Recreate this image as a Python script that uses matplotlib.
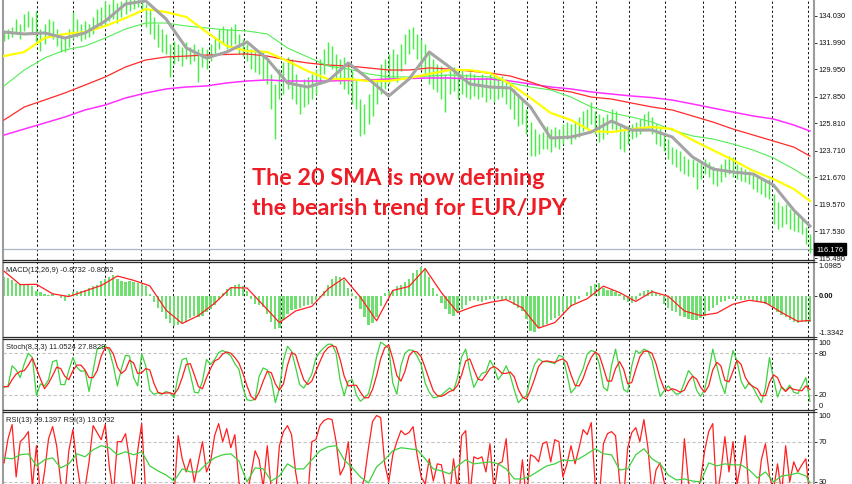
import matplotlib
matplotlib.use("Agg")
import matplotlib.pyplot as plt
from matplotlib.transforms import blended_transform_factory

W, H, DPI = 852, 485, 100
plt.rcParams['font.family'] = ['Liberation Sans', 'DejaVu Sans']

# ---------------- price bars (high / low) ----------------
high = [132.88,133.03,133.19,133.80,133.41, 134.18,134.41,133.95,134.41,133.03,
        133.41,133.80,133.64,133.03,132.65, 132.42,133.03,134.33,133.80,133.41,
        133.64,133.41,133.95,134.56,134.72, 135.18,134.95,135.33,135.02,135.18,
        135.71,135.56,135.71,135.64,135.48, 134.95,134.56,133.95,133.41,133.03,
        132.65,131.88,132.11,131.88,131.65, 132.04,131.65,131.88,131.50,131.65,
        131.50,131.88,132.42,133.03,133.26, 133.03,133.19,133.41,132.65,132.27,
        131.88,131.50,131.35,131.12,131.27, 130.73,129.59,128.82,129.97,130.50,
        130.89,130.73,129.59,128.82,129.20, 129.36,129.59,129.97,130.73,131.50,
        132.04,131.73,131.12,130.73,130.89, 130.35,129.81,129.20,127.67,127.29,
        128.05,128.82,129.20,130.35,130.73, 131.12,131.50,131.12,131.88,132.65,
        133.03,133.19,132.65,132.27,131.88, 131.12,130.73,130.35,130.20,129.59,
        129.97,130.12,129.81,129.97,129.59, 129.74,129.59,129.36,129.59,129.36,
        129.59,129.36,129.20,129.43,129.20, 128.82,128.44,128.05,127.67,126.90,
        125.91,125.37,124.99,125.14,125.60, 125.37,125.53,125.37,125.75,125.91,
        125.75,125.98,126.29,126.75,126.90, 127.44,126.75,126.52,126.29,126.52,
        126.90,126.75,125.75,125.53,125.60, 125.75,125.91,126.14,126.52,126.75,
        126.29,125.75,125.53,124.99,124.61, 123.99,123.84,123.69,123.30,123.07,
        123.07,122.84,122.92,123.07,122.84, 122.54,122.31,122.69,123.07,123.30,
        123.23,122.69,122.46,122.31,122.16, 121.92,121.69,121.54,121.39,121.54,
        120.39,119.78,119.47,119.63,119.24, 119.01,118.86,118.47,117.86,117.33]
low = [132.11,132.27,132.42,132.65,132.27, 132.88,133.19,132.65,132.04,131.35,
       131.88,132.42,132.27,131.73,131.27, 131.27,131.65,132.27,132.42,132.11,
       132.27,132.42,132.65,133.03,133.19, 133.41,133.64,133.80,133.49,133.95,
       134.18,134.41,134.56,134.72,134.41, 133.19,132.65,132.27,131.65,131.27,
       131.12,129.36,130.35,130.58,130.20, 130.73,130.35,130.58,128.97,130.12,
       129.97,130.58,131.12,131.50,131.88, 131.50,131.65,131.88,131.12,130.96,
       130.58,129.97,129.74,129.59,129.20, 128.82,126.90,124.61,127.67,128.05,
       128.44,127.67,127.29,126.52,127.06, 127.29,127.67,128.05,128.82,129.59,
       130.35,129.97,129.20,128.82,128.44, 128.05,127.29,126.90,124.84,124.99,
       125.75,126.37,127.29,128.05,128.44, 128.82,129.20,128.97,129.81,130.35,
       131.12,131.50,130.73,129.97,129.59, 128.82,128.44,128.21,127.67,126.67,
       128.05,128.28,127.67,128.05,127.82, 127.67,127.90,127.67,127.82,127.44,
       127.67,127.44,127.67,127.82,127.29, 126.90,126.14,125.60,125.75,124.99,
       123.30,123.30,123.46,123.84,123.84, 123.61,123.99,123.84,124.22,124.61,
       124.22,124.61,124.76,125.22,125.37, 125.75,124.99,124.38,124.61,124.99,
       125.37,125.14,123.84,123.61,124.22, 124.61,124.76,124.99,125.37,125.37,
       124.99,124.22,124.07,123.69,123.07, 122.69,122.46,122.16,121.92,121.77,
       121.69,120.77,121.54,121.92,121.69, 121.16,121.01,121.31,121.69,121.92,
       121.69,121.54,121.39,121.31,121.16, 120.77,120.55,120.39,120.16,120.01,
       118.09,117.71,117.86,118.09,117.71, 117.56,117.48,117.33,116.56,115.87]
last_price = 116.176

# ---------------- moving averages (sampled every 5 bars) ----------------
ma_idx = list(range(0, 200, 5)) + [199]
sma20 = [132.80,132.65,132.73,132.34,132.73,133.64,134.95,135.18,133.80,131.58,
         130.81,131.27,132.04,130.73,128.90,128.59,129.05,130.43,129.20,127.90,
         129.20,131.27,130.12,128.82,128.59,128.51,127.06,124.68,124.76,125.14,
         125.98,125.29,125.29,124.76,123.23,122.31,122.08,121.92,121.08,119.17,117.94]
sma50 = [130.96,131.27,132.34,132.65,132.80,133.26,133.87,134.56,134.33,133.95,
         132.80,131.73,131.35,131.27,130.58,129.81,129.20,129.20,129.05,129.05,
         129.28,129.59,129.89,129.89,129.66,128.82,127.75,126.60,126.06,125.22,
         125.14,125.37,125.53,125.37,124.53,123.76,123.00,122.16,121.54,120.78,119.86]
sma100 = [128.67,129.89,130.81,131.42,131.73,132.34,133.03,133.49,133.49,133.26,
          133.11,132.96,132.88,132.65,131.58,130.89,130.20,129.97,129.59,129.36,
          129.36,129.43,129.51,129.43,129.36,128.90,128.59,128.36,127.82,127.06,
          126.60,126.29,125.91,125.29,124.84,124.61,124.22,123.76,123.15,122.31,121.54]
sma200 = [126.06,127.06,127.59,128.13,128.74,129.36,130.12,130.66,130.89,130.96,
          131.04,131.08,131.12,130.96,130.66,130.43,130.27,130.20,130.05,129.89,
          129.89,130.05,129.97,129.81,129.66,129.43,128.97,128.44,128.21,127.82,
          127.67,127.36,127.06,126.83,126.37,125.91,125.37,124.91,124.45,123.99,123.30]
sma_long = [124.91,125.37,125.83,126.29,126.83,127.21,127.75,128.13,128.44,128.59,
            128.67,128.90,129.05,129.13,129.05,129.05,129.05,129.09,129.13,129.20,
            129.24,129.28,129.28,129.20,129.20,129.05,128.82,128.59,128.44,128.21,
            128.05,127.90,127.78,127.59,127.29,126.98,126.67,126.37,126.14,125.68,125.22]

# ---------------- MACD ----------------
macd = [0.60,0.58,0.50,0.40,0.38,0.37,0.36,0.30,0.15,0.12,
        0.05,0.02,0.04,0.00,-0.08,-0.16,0.05,0.12,0.15,0.14,
        0.18,0.25,0.30,0.35,0.48,0.55,0.62,0.66,0.55,0.48,
        0.45,0.47,0.46,0.42,0.38,0.30,0.05,-0.20,-0.40,-0.55,
        -0.75,-0.88,-1.00,-0.95,-0.90,-0.85,-0.72,-0.68,-0.70,-0.65,
        -0.55,-0.45,-0.30,-0.15,0.10,0.22,0.28,0.35,0.38,0.33,
        0.15,-0.10,-0.28,-0.32,-0.38,-0.60,-0.85,-1.10,-1.05,-0.80,
        -0.60,-0.48,-0.45,-0.40,-0.35,-0.30,-0.28,-0.15,-0.05,0.15,
        0.35,0.55,0.65,0.62,0.50,0.25,0.10,-0.10,-0.45,-0.70,
        -0.95,-0.90,-0.70,-0.35,0.10,0.15,0.20,0.30,0.35,0.45,
        0.55,0.75,0.85,0.95,0.90,0.60,0.25,0.05,-0.25,-0.45,
        -0.60,-0.65,-0.55,-0.45,-0.30,-0.18,-0.15,-0.18,-0.20,-0.15,
        -0.12,-0.10,-0.12,-0.15,-0.12,-0.15,-0.30,-0.40,-0.50,-0.75,
        -1.15,-1.18,-1.05,-0.98,-0.92,-0.80,-0.72,-0.65,-0.55,-0.45,
        -0.35,-0.25,-0.10,0.00,0.12,0.30,0.38,0.40,0.25,0.18,
        0.20,0.12,0.05,-0.15,-0.22,-0.25,-0.15,0.08,0.15,0.20,
        0.18,0.10,0.02,-0.28,-0.40,-0.50,-0.55,-0.65,-0.70,-0.75,
        -0.78,-0.80,-0.72,-0.65,-0.50,-0.40,-0.30,-0.22,-0.18,-0.12,
        -0.10,-0.12,-0.15,-0.15,-0.12,-0.15,-0.18,-0.22,-0.28,-0.32,
        -0.40,-0.55,-0.62,-0.70,-0.78,-0.85,-0.88,-0.86,-0.85,-0.87]
sig_idx = list(range(0, 200, 4)) + [199]
signal = [0.80,0.36,0.37,0.06,-0.03,0.15,0.33,0.64,0.50,0.32,
          -0.47,-0.91,-0.65,-0.25,0.26,0.25,-0.31,-0.88,-0.50,-0.35,
          0.22,0.58,-0.05,-0.82,0.17,0.30,0.88,0.10,-0.55,-0.35,
          -0.22,-0.13,-0.40,-1.06,-0.88,-0.33,-0.10,0.31,0.10,-0.19,
          0.13,-0.02,-0.50,-0.65,-0.57,-0.28,-0.15,-0.23,-0.55,-0.84,-0.81]

# ---------------- Stochastic ----------------
stoch_k = [31,33,62,56,45,65,80,74,19,36, 33,42,68,70,35,35,55,74,60,54,
           55,25,55,86,88,91,84,62,33,58, 77,76,45,33,79,62,27,21,23,21,
           25,23,16,48,71,73,50,24,23,40, 71,64,71,81,84,81,76,65,57,30,
           13,12,14,47,59,56,42,9,30,70, 90,83,60,35,30,39,50,73,82,88,
           93,93,80,41,19,40,42,20,11,16, 22,46,75,96,92,87,37,21,62,80,
           85,84,76,64,37,24,16,17,20,25, 30,26,45,75,86,55,31,42,51,53,
           70,60,42,50,62,48,27,9,15,19, 46,64,72,68,68,67,65,77,75,50,
           23,30,45,58,79,84,82,64,31,26, 62,86,57,28,24,62,84,80,86,83,
           70,43,18,26,33,27,21,23,38,55, 48,27,18,28,54,86,62,38,22,56,
           84,69,40,29,38,30,19,9,30,74, 43,17,32,26,34,24,22,33,45,11]
stoch_d = [32,32,42,50,54,55,63,73,58,43, 29,37,48,60,58,47,42,55,63,63,
           56,45,45,55,76,88,88,79,60,51, 56,70,66,51,52,58,56,37,24,22,
           23,23,21,29,45,64,65,49,32,29, 45,58,69,72,79,82,80,74,66,51,
           33,18,13,24,40,54,52,36,27,36, 63,81,78,59,42,35,40,54,68,81,
           88,91,89,71,47,33,34,34,24,16, 16,28,48,72,88,92,72,48,40,54,
           76,83,82,75,59,42,26,19,18,21, 25,27,34,49,69,72,57,43,41,49,
           58,61,57,51,51,53,46,28,17,14, 27,43,61,68,69,68,67,70,72,67,
           49,34,33,44,61,74,82,77,59,40, 40,58,68,57,36,38,57,75,83,83,
           80,65,44,29,26,29,27,24,27,39, 47,43,31,24,33,56,67,62,41,39,
           54,70,64,46,36,32,29,19,19,38, 49,45,31,25,31,28,27,26,33,28]

# ---------------- RSI ----------------
rsi3 = [49,73,87,35,70,74,80,25,66,15, 40,73,85,66,30,15,61,82,48,22,
        24,50,86,79,72,87,45,18,70,70, 78,52,22,61,88,18,12,15,18,14,
        16,22,18,76,53,40,53,30,50,70, 40,50,76,88,70,83,64,77,30,15,
        18,38,61,52,25,66,22,15,66,80, 86,77,40,16,20,14,70,72,86,91,
        93,92,70,37,45,70,18,15,20,34, 64,90,96,94,48,30,57,70,81,77,
        79,85,57,35,28,53,31,48,47,25, 15,53,22,76,81,15,55,53,55,40,
        68,20,48,50,73,18,12,14,52,12, 57,55,50,68,70,50,72,70,35,48,
        66,48,64,82,77,89,25,15,68,78, 80,76,30,15,64,79,84,70,92,64,
        18,42,49,30,12,14,16,12,73,30, 15,18,32,61,80,88,14,40,75,40,
        70,28,50,76,15,12,16,52,68,36, 22,48,18,66,30,50,40,47,53,13]
rsi13_idx = list(range(0, 200, 2)) + [199]
rsi13 = [54,53,57,58,46,52,54,44,48,58, 55,62,66,64,57,60,57,60,46,41,
         37,31,43,40,40,48,54,57,58,51, 30,44,43,31,36,48,43,43,52,61,
         65,66,52,44,35,29,45,52,61,64, 63,62,53,43,41,38,46,52,48,49,
         50,48,43,33,33,36,41,46,48,52, 51,53,58,63,58,57,42,43,57,63,
         53,48,37,32,33,31,30,49,46,48, 47,47,42,34,40,30,36,37,39,36, 29]

# ---------------- axis texts ----------------
price_ticks = [134.03, 131.99, 129.95, 127.85, 125.81, 123.71, 121.67, 119.57, 117.53, 115.49]
macd_ticks = [1.0985, 0.0, -1.3342]
macd_labels = ['1.0985', '0.00', '-1.3342']
stoch_ticks = [100, 80, 20, 0]
rsi_ticks = [100, 70, 30]
grid_bars = [8.1, 17.0, 24.9, 33.8, 41.7, 50.6, 59.3, 68.4, 77.0, 85.7, 94.8, 103.0,
             112.3, 121.0, 129.1, 138.0, 146.2, 154.3, 163.2, 172.6, 180.5, 189.6, 198.5]
macd_title = 'MACD(12,26,9) -0.8732 -0.8062'
stoch_title = 'Stoch(8,3,3) 11.0524 27.8829'
rsi_title = 'RSI(13) 29.1397 RSI(3) 13.0732'
note_lines = ['The 20 SMA is now defining', 'the bearish trend for EUR/JPY']

# ---------------- figure ----------------
fig = plt.figure(figsize=(W / DPI, H / DPI), dpi=DPI)
fig.patch.set_facecolor('white')


def panel(top, bottom):
    return fig.add_axes([3 / W, 1 - bottom / H, 811 / W, (bottom - top) / H])


def style(ax, ylim, ticks, labels, vas, weights=None, top=True, bottom=True):
    ax.set_facecolor('white')
    ax.set_xlim(-0.25, 200)
    ax.set_ylim(*ylim)
    ax.set_xticks([])
    ax.yaxis.tick_right()
    ax.set_yticks(ticks)
    ax.set_yticklabels([])
    ax.tick_params(axis='y', length=2.4, width=0.7, color='#333333',
                   right=True, left=False, labelright=False, labelleft=False)
    for s in ('left', 'right'):
        ax.spines[s].set_color('#9c9c9c')
        ax.spines[s].set_linewidth(1.5)
    for s in ('top', 'bottom'):
        ax.spines[s].set_color('#2a2a2a')
        ax.spines[s].set_linewidth(0.9)
    ax.spines['top'].set_visible(top)
    ax.spines['bottom'].set_visible(bottom)
    tr = blended_transform_factory(ax.transAxes, ax.transData)
    if weights is None:
        weights = ['normal'] * len(ticks)
    for t, lab, va, w in zip(ticks, labels, vas, weights):
        ax.text(1 + 4.5 / 811, t, lab, transform=tr, ha='left', va=va,
                fontsize=5.4, color='#111111', fontweight=w, clip_on=False)
    for g in grid_bars:
        ax.axvline(g, color='#1a1a1a', lw=0.75, ls=(0, (2.2, 2.2)), zorder=0.5)


bars = list(range(len(high)))

# main price panel
ax_p = panel(0, 261)
style(ax_p, (115.34, 135.33), price_ticks, ['%.3f' % v for v in price_ticks],
      ['center'] * len(price_ticks), top=False)
ax_p.axhline(last_price, color='#a9b7c6', lw=0.9, zorder=1.5)
ax_p.vlines(bars, low, high, color='#45ef45', lw=1.05, zorder=2)
ax_p.plot(ma_idx, sma_long, color='#ff30ff', lw=1.1, zorder=3)
ax_p.plot(ma_idx, sma200, color='#ff2a2a', lw=0.9, zorder=3)
ax_p.plot(ma_idx, sma100, color='#55ee55', lw=0.8, zorder=3)
ax_p.plot(ma_idx, sma50, color='#ffff00', lw=1.6, zorder=3.5)
ax_p.plot(ma_idx, sma20, color='#a4a4a4', lw=2.2, zorder=4)
trp = blended_transform_factory(ax_p.transAxes, ax_p.transData)
ax_p.text(1 + 2.5 / 811, last_price, '%.3f' % last_price, transform=trp, ha='left',
          va='center', fontsize=5.4, color='white', clip_on=False, zorder=6,
          bbox=dict(boxstyle='square,pad=0.3', fc='black', ec='black'))

# MACD
ax_m = panel(263, 337.5)
style(ax_m, (-1.3342, 1.0985), macd_ticks, macd_labels, ['top', 'center', 'bottom'],
      weights=['normal', 'bold', 'normal'])
ax_m.bar(bars, macd, width=0.55, color='#6fdf6f', zorder=2)
ax_m.plot(sig_idx, signal, color='#ff2020', lw=0.9, zorder=3)

# Stochastic
ax_s = panel(339.5, 410.5)
style(ax_s, (-0.9, 101.3), stoch_ticks, [str(v) for v in stoch_ticks],
      ['top', 'center', 'center', 'bottom'])
for lvl in (80, 20):
    ax_s.axhline(lvl, color='#c4c4c4', lw=0.8, ls=(0, (3, 2)), zorder=1)
ax_s.plot(bars, stoch_k, color='#3fd23f', lw=0.9, zorder=3)
ax_s.plot(bars, stoch_d, color='#ff1e1e', lw=0.9, zorder=3.5)

# RSI
ax_r = panel(412.5, 485)
style(ax_r, (28, 100), rsi_ticks, [str(v) for v in rsi_ticks],
      ['top', 'center', 'center'], bottom=False)
for lvl in (70, 30):
    ax_r.axhline(lvl, color='#c4c4c4', lw=0.8, ls=(0, (3, 2)), zorder=1)
ax_r.plot(bars, rsi3, color='#ff2020', lw=0.9, zorder=3)
ax_r.plot(rsi13_idx, rsi13, color='#3fd23f', lw=0.9, zorder=3.5)

# panel titles
for txt, ypx in ((macd_title, 270), (stoch_title, 347.5), (rsi_title, 420)):
    fig.text(6 / W, 1 - ypx / H, txt, fontsize=5.4, color='#222222', va='center', ha='left')

# annotation
for line, base in zip(note_lines, (185, 215)):
    fig.text(252 / W, 1 - base / H, line, fontsize=16.8, color='#ee1c25',
             fontweight='bold', family=['Lato', 'DejaVu Sans'], va='baseline', ha='left')

fig.savefig('out.png', dpi=DPI, facecolor='white')
